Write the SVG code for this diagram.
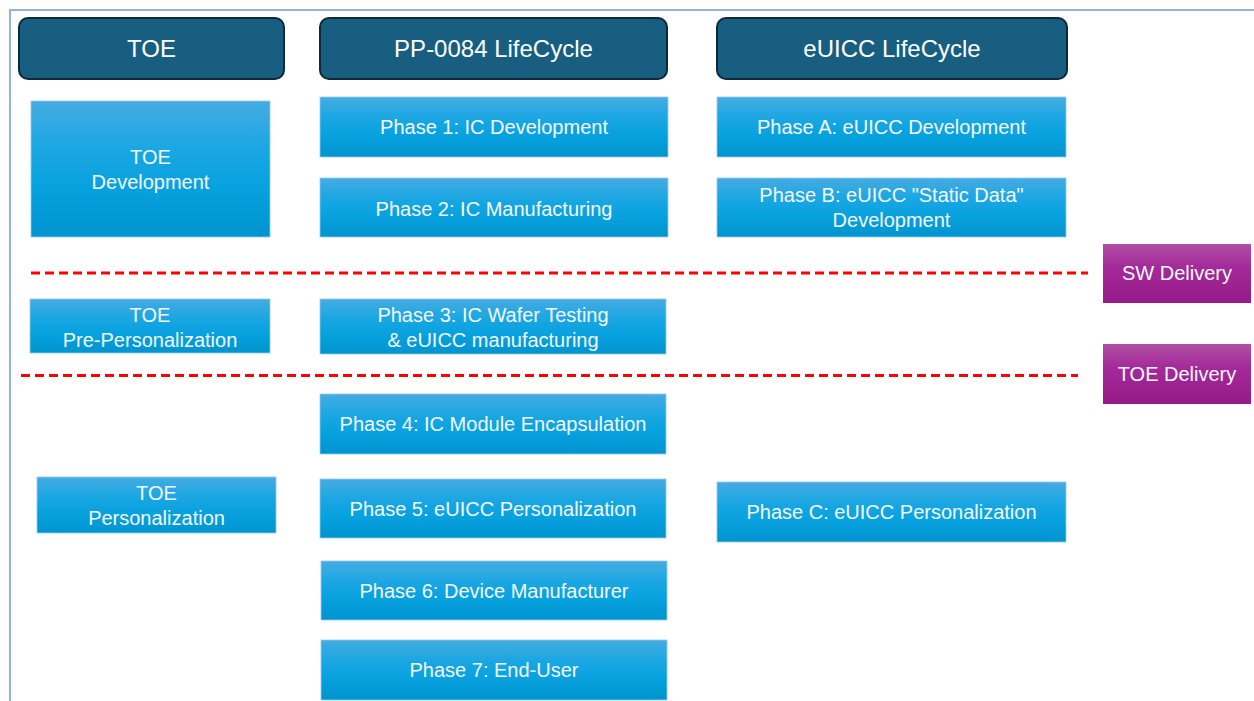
<svg xmlns="http://www.w3.org/2000/svg" width="1254" height="701" viewBox="0 0 1254 701">
<defs>
<linearGradient id="blueGrad" x1="0" y1="0" x2="0" y2="1">
<stop offset="0" stop-color="#46abe1"/>
<stop offset="0.35" stop-color="#1aa7e3"/>
<stop offset="0.65" stop-color="#06a1de"/>
<stop offset="1" stop-color="#0094cf"/>
</linearGradient>
<linearGradient id="magGrad" x1="0" y1="0" x2="0" y2="1">
<stop offset="0" stop-color="#b050a4"/>
<stop offset="0.4" stop-color="#a4299a"/>
<stop offset="1" stop-color="#961a88"/>
</linearGradient>
<style>
.hdr{fill:#175e80;stroke:#0b2a3a;stroke-width:2}
.hdrt{font-family:"Liberation Sans",Arial,sans-serif;font-size:24px;fill:#ffffff;text-anchor:middle}
.box{fill:url(#blueGrad);stroke:#8fcdee;stroke-width:0.8}
.mag{fill:url(#magGrad)}
.t{font-family:"Liberation Sans",Arial,sans-serif;font-size:20px;fill:#f4faff;text-anchor:middle}
.dash{stroke:#ff0000;stroke-width:3;stroke-dasharray:9 5;fill:none}
.frame{stroke:#95b3d7;stroke-width:2;fill:none}
</style>
</defs>
<rect width="1254" height="701" fill="#ffffff"/>
<path class="frame" d="M10 701 V10 H1254"/>

<g id="hdr-toe"><rect class="hdr" x="19" y="18" width="265" height="61" rx="9"/><text class="hdrt" x="151.5" y="56.5">TOE</text></g>
<g id="hdr-pp"><rect class="hdr" x="320" y="18" width="347" height="61" rx="9"/><text class="hdrt" x="493.5" y="56.5">PP-0084 LifeCycle</text></g>
<g id="hdr-euicc"><rect class="hdr" x="717" y="18" width="350" height="61" rx="9"/><text class="hdrt" x="892" y="56.5">eUICC LifeCycle</text></g>

<g id="toe-dev"><rect class="box" x="31" y="101" width="239" height="136"/><text class="t" x="150.5" y="164">TOE</text><text class="t" x="150.5" y="189">Development</text></g>
<g id="phase1"><rect class="box" x="320" y="97" width="348" height="60"/><text class="t" x="494" y="134">Phase 1: IC Development</text></g>
<g id="phase2"><rect class="box" x="320" y="178" width="348" height="59"/><text class="t" x="494" y="215.5">Phase 2: IC Manufacturing</text></g>
<g id="phaseA"><rect class="box" x="717" y="97" width="349" height="60"/><text class="t" x="891.5" y="134">Phase A: eUICC Development</text></g>
<g id="phaseB"><rect class="box" x="717" y="178" width="349" height="59"/><text class="t" x="891.5" y="202">Phase B: eUICC "Static Data"</text><text class="t" x="891.5" y="227">Development</text></g>

<g id="sw-delivery"><rect class="mag" x="1103" y="244" width="148" height="59"/><text class="t" x="1177" y="280">SW Delivery</text></g>
<g id="toe-delivery"><rect class="mag" x="1103" y="344" width="148" height="60"/><text class="t" x="1177" y="381">TOE Delivery</text></g>

<g id="toe-preperso"><rect class="box" x="30" y="299" width="240" height="54"/><text class="t" x="150" y="322">TOE</text><text class="t" x="150" y="347">Pre-Personalization</text></g>
<g id="phase3"><rect class="box" x="320" y="299" width="346" height="55"/><text class="t" x="493" y="322">Phase 3: IC Wafer Testing</text><text class="t" x="493" y="347">&amp; eUICC manufacturing</text></g>

<g id="phase4"><rect class="box" x="320" y="394" width="346" height="60"/><text class="t" x="493" y="431">Phase 4: IC Module Encapsulation</text></g>
<g id="toe-perso"><rect class="box" x="37" y="477" width="239" height="56"/><text class="t" x="156.5" y="500">TOE</text><text class="t" x="156.5" y="525">Personalization</text></g>
<g id="phase5"><rect class="box" x="320" y="479" width="346" height="59"/><text class="t" x="493" y="515.5">Phase 5: eUICC Personalization</text></g>
<g id="phaseC"><rect class="box" x="717" y="482" width="349" height="60"/><text class="t" x="891.5" y="519">Phase C: eUICC Personalization</text></g>
<g id="phase6"><rect class="box" x="321" y="561" width="346" height="59"/><text class="t" x="494" y="597.5">Phase 6: Device Manufacturer</text></g>
<g id="phase7"><rect class="box" x="321" y="640" width="346" height="60"/><text class="t" x="494" y="677">Phase 7: End-User</text></g>

<g id="connectors">
<line class="dash" x1="31" y1="273" x2="1088" y2="273"/>
<line class="dash" x1="21" y1="375.5" x2="1078" y2="375.5"/>
</g>
</svg>
